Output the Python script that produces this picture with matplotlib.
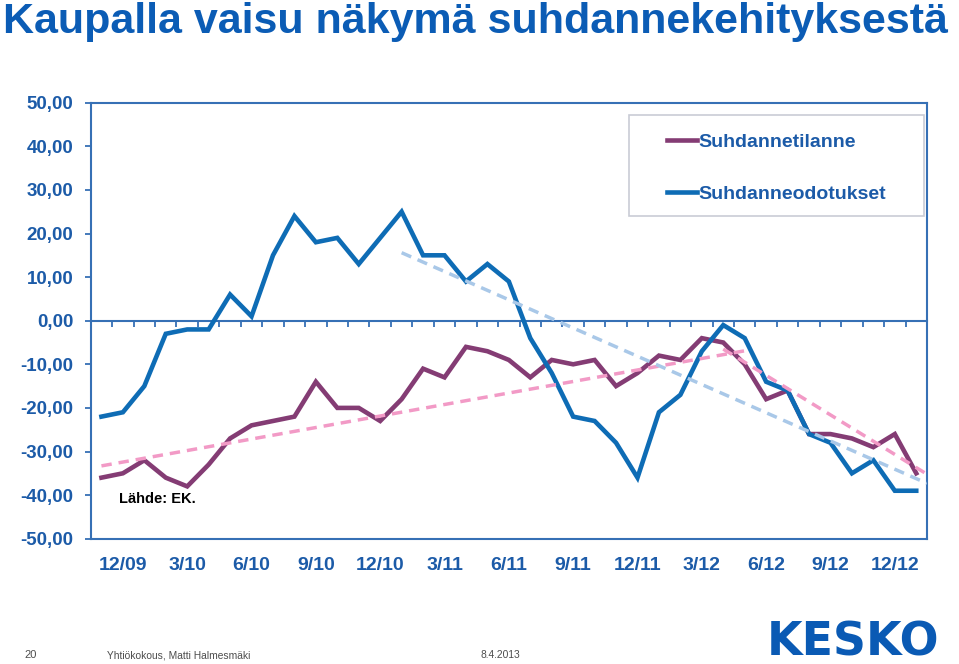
import numpy as np
import matplotlib
matplotlib.use('Agg')
import matplotlib.pyplot as plt
from matplotlib.patches import Rectangle

plt.rcParams['font.family'] = ['Liberation Sans', 'DejaVu Sans']

# monthly values 11/09 ... 1/13
tilanne = [-36, -35, -32, -36, -38, -33, -27, -24, -23, -22, -14, -20, -20,
           -23, -18, -11, -13, -6, -7, -9, -13, -9, -10, -9, -15, -12, -8,
           -9, -4, -5, -10, -18, -16, -26, -26, -27, -29, -26, -35]
odotukset = [-22, -21, -15, -3, -2, -2, 6, 1, 15, 24, 18, 19, 13, 19, 25, 15,
             15, 9, 13, 9, -4, -12, -22, -23, -28, -36, -21, -17, -7, -1, -4,
             -14, -16, -26, -28, -35, -32, -39, -39]
tick_labels = ['12/09', '3/10', '6/10', '9/10', '12/10', '3/11', '6/11',
               '9/11', '12/11', '3/12', '6/12', '9/12', '12/12']
tick_index = [1, 4, 7, 10, 13, 16, 19, 22, 25, 28, 31, 34, 37]

# trend lines (start/end month index, value)
trend_up_x, trend_up_y = [0, 30], [-33.3, -6.9]
trend_down_x, trend_down_y = [29, 38.5], [-6.5, -35.2]
trend_odot_x, trend_odot_y = [14, 38.5], [15.6, -37.3]

frame_col = '#3670B5'
label_col = '#1C5BA8'
blue = '#0E6CB5'
purple = '#843C74'
pink = '#F29AC6'
lightblue = '#A9C8E8'

fig = plt.figure(figsize=(9.59, 6.64), dpi=100)
ax = fig.add_axes([0.0946, 0.1887, 0.872, 0.6566])

x = np.arange(len(tilanne))
l1, = ax.plot(x, tilanne, color=purple, lw=3.3, solid_joinstyle='miter', zorder=3)
l2, = ax.plot(x, odotukset, color=blue, lw=3.3, solid_joinstyle='miter', zorder=4)
ax.plot(trend_up_x, trend_up_y, color=pink, lw=2.5, dashes=(3, 2), zorder=5)
ax.plot(trend_down_x, trend_down_y, color=pink, lw=2.5, dashes=(3, 2), zorder=5)
ax.plot(trend_odot_x, trend_odot_y, color=lightblue, lw=2.5, dashes=(3, 2), zorder=5)

ax.set_xlim(-0.5, len(tilanne) - 0.5)
ax.set_ylim(-50, 50)

# zero axis with category ticks
ax.spines['bottom'].set_position(('data', 0))
ax.set_xticks(np.arange(0.5, len(tilanne) - 1, 1))
ax.tick_params(axis='x', direction='out', length=4.5, width=1.3,
               color=frame_col, labelbottom=False)

# labels at the bottom of the plot area
lab = ax.secondary_xaxis('bottom')
lab.set_xticks(tick_index, tick_labels)
lab.tick_params(length=0, pad=13, labelsize=14, labelcolor=label_col)
for t in lab.get_xticklabels():
    t.set_fontweight('bold')
lab.spines['bottom'].set_color(frame_col)
lab.spines['bottom'].set_linewidth(1.5)

yt = np.arange(-50, 51, 10)
ax.set_yticks(yt, [f'{v:.2f}'.replace('.', ',') for v in yt])
ax.tick_params(axis='y', direction='out', length=4.5, width=1.3,
               color=frame_col, pad=8, labelsize=13.5, labelcolor=label_col)
for t in ax.get_yticklabels():
    t.set_fontweight('bold')

for s in ax.spines.values():
    s.set_color(frame_col)
    s.set_linewidth(1.5)

# legend
ax.add_patch(Rectangle((0.644, 0.740), 0.352, 0.232, transform=ax.transAxes,
                       fill=False, edgecolor='#C9CCD6', lw=1.2, zorder=6))
leg = ax.legend([l1, l2], ['Suhdannetilanne', 'Suhdanneodotukset'],
                loc='center', bbox_to_anchor=(0.8198, 0.850), frameon=False,
                handlelength=1.55, handletextpad=0.05, labelspacing=1.75,
                prop={'size': 14, 'weight': 'bold'})
for t in leg.get_texts():
    t.set_color(label_col)

ax.text(0.034, 0.091, 'Lähde: EK.', transform=ax.transAxes, fontsize=10.5,
        fontweight='bold', color='black', va='center', ha='left')

fig.text(0.003, 1 - 32.5 / 664, 'Kaupalla vaisu näkymä suhdannekehityksestä',
         fontsize=31, fontweight='bold', color='#0B5CB5', va='baseline')

foot = ['Liberation Sans Narrow', 'Liberation Sans', 'DejaVu Sans']
fig.text(24 / 959, 1 - 655 / 664, '20', fontsize=8, color='#4D4D4D',
         family=foot, va='center')
fig.text(107 / 959, 1 - 655 / 664, 'Yhtiökokous, Matti Halmesmäki', fontsize=7.4,
         color='#4D4D4D', family=foot, va='center')
fig.text(480 / 959, 1 - 655 / 664, '8.4.2013', fontsize=7.4, color='#4D4D4D',
         family=foot, va='center')
fig.text(853 / 959, 1 - 643 / 664, 'KESKO', fontsize=33, fontweight='bold',
         color='#0A5AB4', family=['DejaVu Sans'], ha='center', va='center')

fig.savefig('out.png', dpi=100)
